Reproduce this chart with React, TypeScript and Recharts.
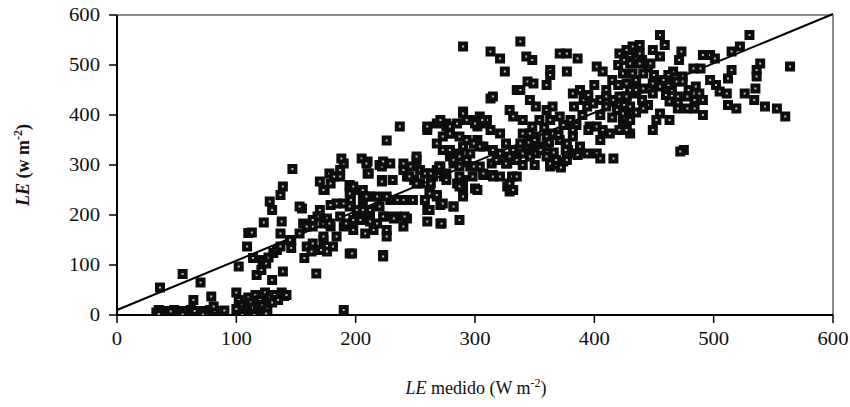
import { ScatterChart, Scatter, XAxis, YAxis, ReferenceLine } from "recharts";

const lowCluster: [number, number][] = [
  [33, 5], [35, 10], [38, 3], [40, 8], [42, 5], [45, 2], [48, 10], [50, 5], [52, 3], [55, 8],
  [58, 2], [60, 5], [62, 10], [65, 3], [68, 6], [70, 2], [72, 8], [75, 4], [78, 10], [80, 3],
  [35, 2], [45, 7], [55, 1], [65, 8], [72, 1], [82, 8], [36, 55], [55, 82], [70, 65], [64, 30],
  [79, 37], [81, 17], [90, 9],
];

const earlyRise: [number, number][] = [
  [100, 45], [102, 30], [104, 20], [106, 10], [108, 5], [110, 35], [112, 25], [114, 15], [116, 40],
  [118, 8], [120, 30], [122, 20], [124, 45], [126, 12], [128, 35], [130, 25], [132, 40], [135, 30],
  [138, 45], [140, 38], [142, 40], [105, 0], [115, 0], [125, 3], [100, 12],
  [102, 97], [109, 137], [110, 164], [114, 114], [117, 80], [121, 90], [122, 110], [125, 103],
  [127, 115], [130, 70], [131, 124], [134, 130], [137, 137], [139, 87], [123, 185], [138, 187],
  [137, 163], [113, 165], [128, 227], [130, 210], [137, 240], [139, 257], [147, 292],
  [155, 213], [156, 183], [146, 150], [146, 134], [159, 137], [157, 114], [167, 83], [164, 177],
  [168, 197], [173, 183], [176, 193], [179, 177], [173, 150], [163, 127], [171, 130], [176, 127],
  [184, 157], [190, 177], [195, 123], [170, 267], [174, 250], [178, 283], [187, 290], [190, 303],
  [195, 260], [195, 243], [190, 223], [184, 223], [179, 220], [190, 10],
];

const midBand: [number, number][] = [
  [188, 313], [205, 313], [210, 307], [210, 283], [220, 300], [229, 303], [222, 270], [231, 270],
  [226, 349], [237, 377], [240, 303], [246, 297], [251, 310], [254, 290], [243, 277], [249, 270],
  [254, 263], [260, 283], [265, 277], [260, 370], [268, 383], [276, 377], [279, 363], [268, 343],
  [273, 330], [279, 317], [282, 303], [271, 297], [276, 283], [262, 250], [268, 237], [260, 210],
  [271, 183], [282, 217], [179, 263], [173, 250], [187, 277], [182, 277], [195, 257], [201, 250],
  [206, 230], [196, 230], [212, 237], [218, 237], [220, 217], [229, 230], [234, 197], [243, 193],
  [226, 197], [212, 203], [204, 210], [198, 190], [192, 183], [187, 197], [178, 183], [170, 210],
  [164, 190], [159, 177], [153, 217], [153, 163], [145, 150], [164, 143], [173, 157], [181, 137],
  [223, 120], [226, 157], [215, 170], [208, 163],
  [209, 303], [211, 283], [222, 297], [222, 267], [240, 290], [245, 277], [251, 263], [258, 283],
  [263, 283], [268, 290], [274, 277], [263, 263], [262, 243], [268, 240], [258, 230], [271, 220],
  [262, 210], [260, 187], [272, 183], [287, 190], [285, 263], [290, 250], [290, 270], [298, 277],
  [300, 253], [307, 280], [315, 280], [321, 277], [327, 257], [329, 247], [331, 277], [327, 303],
  [314, 303], [304, 297], [296, 297], [287, 297], [363, 297], [368, 300], [374, 307], [248, 230],
  [240, 230], [235, 230], [226, 237], [209, 237], [206, 250], [198, 257], [195, 217], [201, 210],
  [206, 210], [212, 210], [204, 190], [212, 187], [218, 183], [223, 197], [232, 193], [241, 197],
  [240, 177], [226, 170], [198, 170], [197, 123], [223, 117],
];

const upperBand: [number, number][] = [
  [290, 537], [338, 547], [313, 527], [321, 513], [325, 487], [343, 517], [348, 510], [363, 490],
  [363, 480], [377, 487], [371, 523], [377, 523], [386, 513], [402, 497], [407, 487], [360, 460],
  [344, 467], [349, 463], [335, 450], [338, 450], [313, 433], [315, 437], [290, 407], [346, 430],
  [351, 417], [360, 410], [365, 417], [329, 410], [332, 397], [340, 390], [348, 377], [354, 390],
  [363, 390], [371, 397], [380, 390], [383, 417], [382, 443], [388, 450], [391, 430], [394, 417],
  [399, 423], [405, 430], [410, 437], [416, 430], [421, 437], [427, 437], [432, 443], [410, 417],
  [419, 410], [427, 403], [424, 390], [427, 377], [421, 370], [430, 363], [396, 377], [402, 377],
  [407, 370], [413, 363], [382, 357], [377, 343], [371, 350], [365, 363], [360, 357], [351, 357],
  [346, 363], [340, 363], [360, 337], [354, 337], [348, 330], [343, 337], [338, 343], [332, 330],
  [326, 343], [321, 363], [313, 370], [307, 383], [302, 377], [299, 390], [304, 397], [310, 390],
  [293, 390], [285, 383], [276, 383], [279, 363], [273, 357], [287, 357], [293, 350], [302, 350],
  [307, 337], [315, 330], [321, 323], [329, 317], [335, 310], [340, 323], [346, 317], [351, 323],
  [360, 317], [363, 303], [368, 310], [377, 310], [382, 323], [388, 337], [394, 323], [402, 323],
  [416, 313], [405, 313], [304, 337], [287, 323], [282, 310], [293, 310], [299, 297], [307, 283],
  [315, 277], [329, 263], [332, 250], [335, 277], [326, 303], [318, 310], [287, 277], [287, 257],
  [290, 237], [282, 217], [273, 223], [302, 250], [276, 270], [270, 297],
  [223, 307], [251, 317], [260, 377], [271, 390], [279, 377], [290, 403], [300, 383], [306, 390],
  [279, 330], [290, 337], [299, 343], [287, 317], [296, 323],
  [390, 400], [395, 440], [400, 460], [405, 400], [410, 450], [415, 470], [420, 460], [425, 420],
  [430, 450], [435, 470], [440, 430], [445, 420], [420, 500], [425, 510], [430, 520], [440, 510],
  [445, 495], [450, 480], [455, 470], [460, 440], [465, 450], [470, 425], [385, 380], [395, 370],
  [405, 350], [415, 395], [425, 395], [435, 405],
  [345, 345], [350, 350], [355, 330], [358, 375], [362, 345], [366, 325], [370, 360], [374, 380],
  [378, 330], [382, 370], [386, 320], [340, 300], [350, 300], [372, 295], [376, 330],
];

const topRight: [number, number][] = [
  [455, 560], [459, 540], [530, 560], [473, 527], [471, 510], [491, 520], [497, 520], [501, 513],
  [515, 527], [522, 537], [539, 503], [536, 490], [536, 477], [535, 453], [564, 497], [515, 490],
  [512, 473], [502, 460], [505, 447], [497, 470], [489, 493], [483, 493], [474, 477], [466, 487],
  [462, 480], [462, 460], [469, 467], [474, 467], [479, 450], [485, 457], [488, 443], [491, 430],
  [484, 430], [478, 437], [470, 437], [463, 427], [470, 413], [478, 413], [484, 413], [491, 400],
  [511, 443], [512, 420], [519, 413], [526, 443], [534, 430], [543, 417], [553, 413], [560, 397],
  [455, 517], [449, 530], [447, 503], [438, 523], [432, 537], [438, 540], [427, 530], [421, 523],
  [430, 503], [438, 503], [441, 483], [432, 483], [424, 483], [427, 463], [435, 450], [441, 453],
  [449, 463], [455, 457], [458, 470], [449, 443], [427, 437], [430, 417], [424, 403], [430, 390],
  [427, 370], [441, 413], [449, 370], [452, 390], [455, 403], [463, 390], [475, 330], [472, 327],
];

const axisTicks = [0, 100, 200, 300, 400, 500, 600];
const fitLine = [{ x: 0, y: 10 }, { x: 600, y: 602 }];

const points = [...lowCluster, ...earlyRise, ...midBand, ...upperBand, ...topRight].map(([x, y]) => ({ x, y }));

const serif = "'Liberation Serif', 'Times New Roman', serif";

function Marker(props: any) {
  const { cx, cy } = props;
  if (cx == null || cy == null) return null;
  return (
    <g>
      <rect x={cx - 5} y={cy - 5} width={10} height={10} fill="#0d0d0d" />
      <rect x={cx - 1} y={cy - 1} width={2} height={2} fill="#bbb" />
    </g>
  );
}

function YTick({ x, y, payload }: any) {
  return (
    <g transform={`translate(${x},${y})`}>
      <text transform="scale(1.15,1)" textAnchor="end" dy={6} fontFamily={serif} fontSize={18} fill="#111">
        {payload.value}
      </text>
    </g>
  );
}

function XTick({ x, y, payload }: any) {
  return (
    <g transform={`translate(${x},${y})`}>
      <text transform="scale(1.15,1)" textAnchor="middle" dy={18} fontFamily={serif} fontSize={18} fill="#111">
        {payload.value}
      </text>
    </g>
  );
}

export default function App() {
  return (
    <div style={{ position: "absolute", left: 0, top: 0, width: 850, height: 407, background: "#fff" }}>
      <ScatterChart width={850} height={407} margin={{ top: 15, right: 17, bottom: 0, left: 0 }}>
        <XAxis
          type="number"
          dataKey="x"
          domain={[0, 600]}
          ticks={axisTicks}
          tickSize={8}
          tickMargin={4}
          height={92}
          axisLine={{ stroke: "#000", strokeWidth: 2 }}
          tickLine={{ stroke: "#000", strokeWidth: 1.5 }}
          tick={<XTick />}
          allowDataOverflow
        />
        <YAxis
          type="number"
          dataKey="y"
          domain={[0, 600]}
          ticks={axisTicks}
          tickSize={8}
          tickMargin={9}
          width={117}
          axisLine={{ stroke: "#000", strokeWidth: 2 }}
          tickLine={{ stroke: "#000", strokeWidth: 1.5 }}
          tick={<YTick />}
          allowDataOverflow
        />
        <ReferenceLine y={600} stroke="#8c8c8c" strokeWidth={2} />
        <ReferenceLine x={600} stroke="#8c8c8c" strokeWidth={2} />
        <Scatter data={points} shape={<Marker />} isAnimationActive={false} />
        <ReferenceLine segment={fitLine} stroke="#000" strokeWidth={2} ifOverflow="visible" />
      </ScatterChart>
      <div
        style={{
          position: "absolute",
          left: 476,
          top: 376,
          transform: "translateX(-50%)",
          whiteSpace: "nowrap",
          fontFamily: serif,
          fontSize: 18,
          color: "#111",
        }}
      >
        <i>LE</i> medido (W m<sup style={{ fontSize: 12 }}>-2</sup>)
      </div>
      <div
        style={{
          position: "absolute",
          left: 22,
          top: 165,
          transform: "translate(-50%,-50%) rotate(-90deg)",
          whiteSpace: "nowrap",
          fontFamily: serif,
          fontSize: 18,
          fontWeight: "bold",
          color: "#111",
        }}
      >
        <i>LE</i> (w m<sup style={{ fontSize: 12 }}>-2</sup>)
      </div>
    </div>
  );
}
